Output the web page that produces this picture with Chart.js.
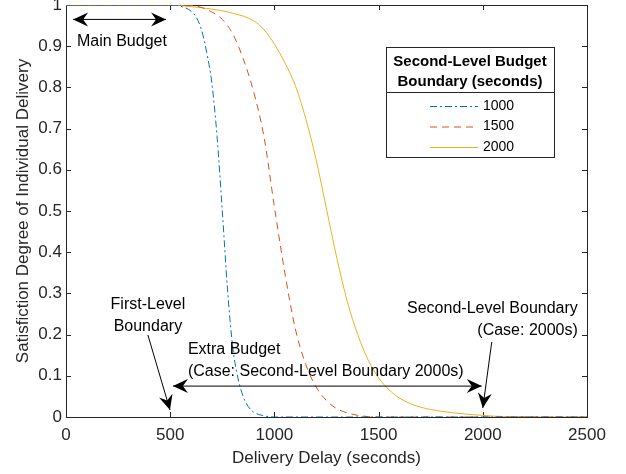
<!DOCTYPE html>
<html>
<head>
<meta charset="utf-8">
<script src="https://cdn.jsdelivr.net/npm/chart.js@4/dist/chart.umd.min.js"></script>
<style>
html,body{margin:0;padding:0;background:#fff;}
</style>
</head>
<body>
<canvas id="chart" width="626" height="474"></canvas>
<script>

/* curves */

let delay1000 = [0, 500, 550, 600, 625, 650, 675, 700, 725, 750, 775, 800, 825, 850, 875, 900, 950, 1000, 2500];
let sat1000 = [1, 1, 0.997, 0.985, 0.97, 0.94, 0.885, 0.81, 0.68, 0.50, 0.31, 0.17, 0.095, 0.05, 0.025, 0.012, 0.003, 0, 0];

let delay1500 = [0, 500, 600, 650, 700, 750, 800, 850, 900, 950, 1000, 1050, 1100, 1150, 1200, 1250, 1300, 1350, 1400, 1450, 1500, 2500];
let sat1500 = [1, 1, 0.999, 0.994, 0.983, 0.965, 0.93, 0.87, 0.79, 0.68, 0.51, 0.35, 0.215, 0.128, 0.073, 0.04, 0.02, 0.01, 0.004, 0.001, 0, 0];

let delay2000 = [0, 500, 600, 700, 800, 900, 950, 1000, 1050, 1100, 1150, 1200, 1250, 1300, 1350, 1400, 1450, 1500, 1550, 1600, 1650, 1700, 1800, 1900, 2000, 2100, 2500];
let sat2000 = [1, 1, 0.996, 0.99, 0.98, 0.962, 0.94, 0.905, 0.86, 0.805, 0.725, 0.625, 0.505, 0.385, 0.28, 0.2, 0.138, 0.095, 0.066, 0.046, 0.033, 0.024, 0.014, 0.008, 0.004, 0.001, 0];

let seriesLabels = ["1000", "1500", "2000"];
let legendTitle = ["Second-Level Budget", "Boundary (seconds)"];

/* annotations, in data units */

let mainBudgetArrow = [34, 480, 0.965];
let extraBudgetArrow = [513, 1995, 0.075];
let firstLevelArrow = [393, 0.199, 499, 0.017];
let secondLevelArrow = [2043, 0.182, 2000, 0.022];

let notes = [
{text:["Main Budget"], x:53, y:0.911, align:"left"},
{text:["First-Level", "Boundary"], x:393, y:0.272, align:"center"},
{text:["Extra Budget", "(Case: Second-Level Boundary 2000s)"], x:585, y:0.163, align:"left"},
{text:["Second-Level Boundary", "(Case: 2000s)"], x:2456, y:0.262, align:"right"}
];

let colors = ["#0072BD", "#D95319", "#EDB120"];
let dashes = [[7,3,2,3], [7,5], []];
let font = "'Liberation Sans', Arial, sans-serif";
let axisColor = "#262626";

function pts(xs, ys){
return xs.map((x,i) => ({x:x, y:ys[i]}));
}

function head(ctx, x0, y0, x1, y1){
let a = Math.atan2(y1-y0, x1-x0);
ctx.save();
ctx.translate(x1, y1);
ctx.rotate(a);
ctx.beginPath();
ctx.moveTo(0,0);
ctx.lineTo(-15,-7);
ctx.lineTo(-10,0);
ctx.lineTo(-15,7);
ctx.closePath();
ctx.fill();
ctx.restore();
}

function arrow(ctx, x0, y0, x1, y1, both){
ctx.beginPath();
ctx.moveTo(x0,y0);
ctx.lineTo(x1,y1);
ctx.stroke();
head(ctx, x0, y0, x1, y1);
if(both) head(ctx, x1, y1, x0, y0);
}


/* box and inward ticks, matlab style */

const boxPlugin = {
id:"box",
beforeDatasetsDraw(chart){
let ctx = chart.ctx, a = chart.chartArea;
let xs = chart.scales.x, ys = chart.scales.y;
ctx.save();
ctx.strokeStyle = axisColor;
ctx.lineWidth = 1;
ctx.strokeRect(a.left+0.5, a.top+0.5, a.right-a.left, a.bottom-a.top);
ctx.beginPath();
xs.ticks.forEach(t => {
let p = Math.round(xs.getPixelForValue(t.value))+0.5;
ctx.moveTo(p, a.bottom); ctx.lineTo(p, a.bottom-5);
ctx.moveTo(p, a.top); ctx.lineTo(p, a.top+5);
});
ys.ticks.forEach(t => {
let p = Math.round(ys.getPixelForValue(t.value))+0.5;
ctx.moveTo(a.left, p); ctx.lineTo(a.left+5, p);
ctx.moveTo(a.right, p); ctx.lineTo(a.right-5, p);
});
ctx.stroke();
ctx.restore();
}
};


/* arrows and text */

const notePlugin = {
id:"notes",
afterDraw(chart){
let ctx = chart.ctx;
let xs = chart.scales.x, ys = chart.scales.y;
let X = v => xs.getPixelForValue(v), Y = v => ys.getPixelForValue(v);
ctx.save();
ctx.strokeStyle = "#000";
ctx.fillStyle = "#000";
ctx.lineWidth = 1;
arrow(ctx, X(mainBudgetArrow[0]), Y(mainBudgetArrow[2]), X(mainBudgetArrow[1]), Y(mainBudgetArrow[2]), true);
arrow(ctx, X(extraBudgetArrow[0]), Y(extraBudgetArrow[2]), X(extraBudgetArrow[1]), Y(extraBudgetArrow[2]), true);
arrow(ctx, X(firstLevelArrow[0]), Y(firstLevelArrow[1]), X(firstLevelArrow[2]), Y(firstLevelArrow[3]), false);
arrow(ctx, X(secondLevelArrow[0]), Y(secondLevelArrow[1]), X(secondLevelArrow[2]), Y(secondLevelArrow[3]), false);
ctx.font = "16px " + font;
ctx.textBaseline = "middle";
notes.forEach(n => {
ctx.textAlign = n.align;
n.text.forEach((t,i) => ctx.fillText(t, X(n.x), Y(n.y) + i*22));
});
ctx.restore();
}
};


/* legend with boxed title */

const legendPlugin = {
id:"legendBox",
afterDraw(chart){
let ctx = chart.ctx, a = chart.chartArea;
let w = 168, h = 110;
let left = a.right - 33 - w, top = a.top + 42;
ctx.save();
ctx.fillStyle = "#fff";
ctx.fillRect(left, top, w, h);
ctx.strokeStyle = axisColor;
ctx.lineWidth = 1;
ctx.strokeRect(left+0.5, top+0.5, w, h);
ctx.beginPath();
ctx.moveTo(left, top+45.5);
ctx.lineTo(left+w, top+45.5);
ctx.stroke();
ctx.fillStyle = "#000";
ctx.font = "bold 15px " + font;
ctx.textAlign = "center";
ctx.textBaseline = "middle";
legendTitle.forEach((t,i) => ctx.fillText(t, left+w/2, top+15+i*20));
ctx.font = "14px " + font;
ctx.textAlign = "left";
chart.data.datasets.forEach((d,i) => {
let y = top + 59 + i*20.5;
ctx.strokeStyle = d.borderColor;
ctx.setLineDash(d.borderDash);
ctx.beginPath();
ctx.moveTo(left+44, y+0.5);
ctx.lineTo(left+92, y+0.5);
ctx.stroke();
ctx.setLineDash([]);
ctx.fillStyle = "#000";
ctx.fillText(d.label, left+97, y);
});
ctx.restore();
}
};


new Chart(document.getElementById("chart"),{

type:"line",

data:{
datasets:[
{label:seriesLabels[0], data:pts(delay1000, sat1000)},
{label:seriesLabels[1], data:pts(delay1500, sat1500)},
{label:seriesLabels[2], data:pts(delay2000, sat2000)}
].map((d,i) => Object.assign(d, {
borderColor:colors[i],
borderDash:dashes[i],
borderWidth:1,
pointRadius:0,
fill:false,
cubicInterpolationMode:"monotone"
}))
},

options:{
responsive:false,
animation:false,
devicePixelRatio:1,
layout:{autoPadding:false, padding:{left:0, right:39, top:5, bottom:0}},
plugins:{legend:{display:false}, tooltip:{enabled:false}},
scales:{
x:{
type:"linear",
min:0, max:2500,
grid:{display:false, drawTicks:false},
border:{display:false},
ticks:{stepSize:500, padding:8, color:axisColor, font:{family:font, size:17}, maxRotation:0,
callback:v => String(v)},
title:{display:true, text:"Delivery Delay (seconds)", color:axisColor, font:{family:font, size:17}, padding:{top:0, bottom:5}},
afterFit(s){ s.height = 57; s.paddingLeft = 0; s.paddingRight = 0; }
},
y:{
min:0, max:1,
grid:{display:false, drawTicks:false},
border:{display:false},
ticks:{stepSize:0.1, padding:4, color:axisColor, font:{family:font, size:17},
callback:v => String(Math.round(v*10)/10)},
title:{display:true, text:"Satisfiction Degree of Individual Delivery", color:axisColor, font:{family:font, size:17}, padding:{top:13, bottom:0}},
afterFit(s){ s.width = 66; s.paddingTop = 0; s.paddingBottom = 0; }
}
}
},

plugins:[boxPlugin, notePlugin, legendPlugin]

});

</script>
</body>
</html>
